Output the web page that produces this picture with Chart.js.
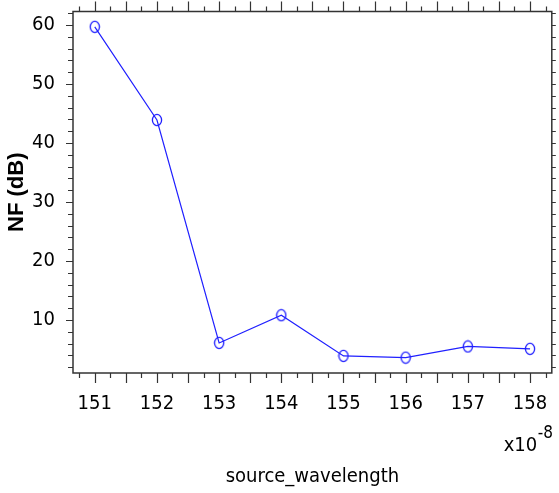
<!DOCTYPE html>
<html>
<head>
<meta charset="utf-8">
<title>NF vs source_wavelength</title>
<script src="https://cdn.jsdelivr.net/npm/chart.js@4.4.1/dist/chart.umd.min.js"></script>
<style>
    html, body { margin: 0; padding: 0; background: #ffffff; }
    #wrap { width: 559px; height: 493px; position: relative; }
</style>
</head>
<body>
<div id="wrap"><canvas id="nfChart"></canvas></div>
<script>
// data
const wavelengths = [151, 152, 153, 154, 155, 156, 157, 158];
const nfValues = [59.7, 43.9, 6.1, 10.8, 3.9, 3.6, 5.5, 5.1];
const xTickValues = [151, 152, 153, 154, 155, 156, 157, 158];
const yTickValues = [10, 20, 30, 40, 50, 60];

const narrowFont = "'DejaVu Sans Condensed', 'Liberation Sans', sans-serif";
const textColor = '#000000';
const lineColor = '#2020ff';
const frameColor = '#333333';

// slightly tall ellipse as the marker
function makeMarker() {
    const c = document.createElement('canvas');
    c.width = 12;
    c.height = 14;
    const g = c.getContext('2d');
    g.strokeStyle = lineColor;
    g.lineWidth = 1.3;
    g.beginPath();
    g.ellipse(6, 7, 4.6, 5.6, 0, 0, Math.PI * 2);
    g.stroke();
    return c;
}

// box frame, minor/major ticks on all four sides, and the x10^-8 note
const framePlugin = {
    id: 'frame',
    afterDraw(chart) {
        const ctx = chart.ctx;
        const area = chart.chartArea;
        const xs = chart.scales.x;
        const ys = chart.scales.y;
        ctx.save();
        ctx.strokeStyle = frameColor;
        ctx.lineWidth = 1.5;
        ctx.strokeRect(area.left, area.top, area.right - area.left, area.bottom - area.top);

        ctx.lineWidth = 1.2;
        ctx.beginPath();
        for (let v = 150.75; v <= xs.max; v += 0.25) {
            const px = Math.round(xs.getPixelForValue(v)) + 0.5;
            const len = (Math.round(v * 4) % 2 === 0) ? 10 : 5;
            ctx.moveTo(px, area.bottom);
            ctx.lineTo(px, area.bottom + len);
            ctx.moveTo(px, area.top);
            ctx.lineTo(px, area.top - len);
        }
        for (let v = 2; v <= ys.max; v += 2) {
            const py = Math.round(ys.getPixelForValue(v)) + 0.5;
            const len = (v % 10 === 0) ? 7 : 5;
            ctx.moveTo(area.left, py);
            ctx.lineTo(area.left - len, py);
            ctx.moveTo(area.right, py);
            ctx.lineTo(area.right + 4, py);
        }
        ctx.stroke();

        // exponent note under the right end of the x axis
        ctx.fillStyle = textColor;
        ctx.textBaseline = 'alphabetic';
        ctx.textAlign = 'right';
        ctx.font = '17px ' + narrowFont;
        const expWidth = ctx.measureText('-8').width;
        ctx.fillText('-8', 553, 438);
        ctx.font = '20px ' + narrowFont;
        ctx.fillText('x10', 553 - expWidth - 0.5, 451);
        ctx.restore();
    }
};

const ctx = document.getElementById('nfChart').getContext('2d');
new Chart(ctx, {
    type: 'line',
    data: {
        datasets: [{
            data: wavelengths.map((w, i) => ({ x: w, y: nfValues[i] })),
            borderColor: lineColor,
            borderWidth: 1.2,
            backgroundColor: 'transparent',
            pointStyle: makeMarker(),
            pointRadius: 6,
            tension: 0,
            fill: false
        }]
    },
    options: {
        responsive: true,
        maintainAspectRatio: false,
        animation: false,
        layout: {
            padding: { left: 0, right: 4, top: 11.5, bottom: 0 }
        },
        plugins: {
            legend: { display: false },
            tooltip: { enabled: false }
        },
        scales: {
            x: {
                type: 'linear',
                min: 150.65,
                max: 158.35,
                afterBuildTicks: function(scale) {
                    scale.ticks = xTickValues.map(v => ({ value: v }));
                },
                afterFit: function(scale) {
                    scale.height = 120;
                    scale.paddingLeft = 0;
                    scale.paddingRight = 0;
                },
                grid: { display: true, drawOnChartArea: false, drawTicks: false },
                border: { display: false },
                ticks: {
                    padding: 19,
                    maxRotation: 0,
                    autoSkip: false,
                    color: textColor,
                    font: { family: narrowFont, size: 20 },
                    callback: function(value) { return String(value); }
                },
                title: {
                    display: true,
                    text: 'source_wavelength',
                    color: textColor,
                    font: { family: narrowFont, size: 20 },
                    padding: { top: 0, bottom: 4 }
                }
            },
            y: {
                min: 1.0,
                max: 62.3,
                afterBuildTicks: function(scale) {
                    scale.ticks = yTickValues.map(v => ({ value: v }));
                },
                afterFit: function(scale) {
                    scale.width = 73;
                    scale.paddingTop = 0;
                    scale.paddingBottom = 0;
                },
                grid: { display: true, drawOnChartArea: false, drawTicks: false },
                border: { display: false },
                ticks: {
                    padding: 18,
                    color: textColor,
                    font: { family: narrowFont, size: 20 },
                    callback: function(value) { return String(value); }
                },
                title: {
                    display: true,
                    text: 'NF (dB)',
                    color: textColor,
                    font: { family: "'Liberation Sans', Arial, sans-serif", size: 22, weight: 'bold' },
                    padding: { top: 4, bottom: 0 }
                }
            }
        }
    },
    plugins: [framePlugin]
});
</script>
</body>
</html>
